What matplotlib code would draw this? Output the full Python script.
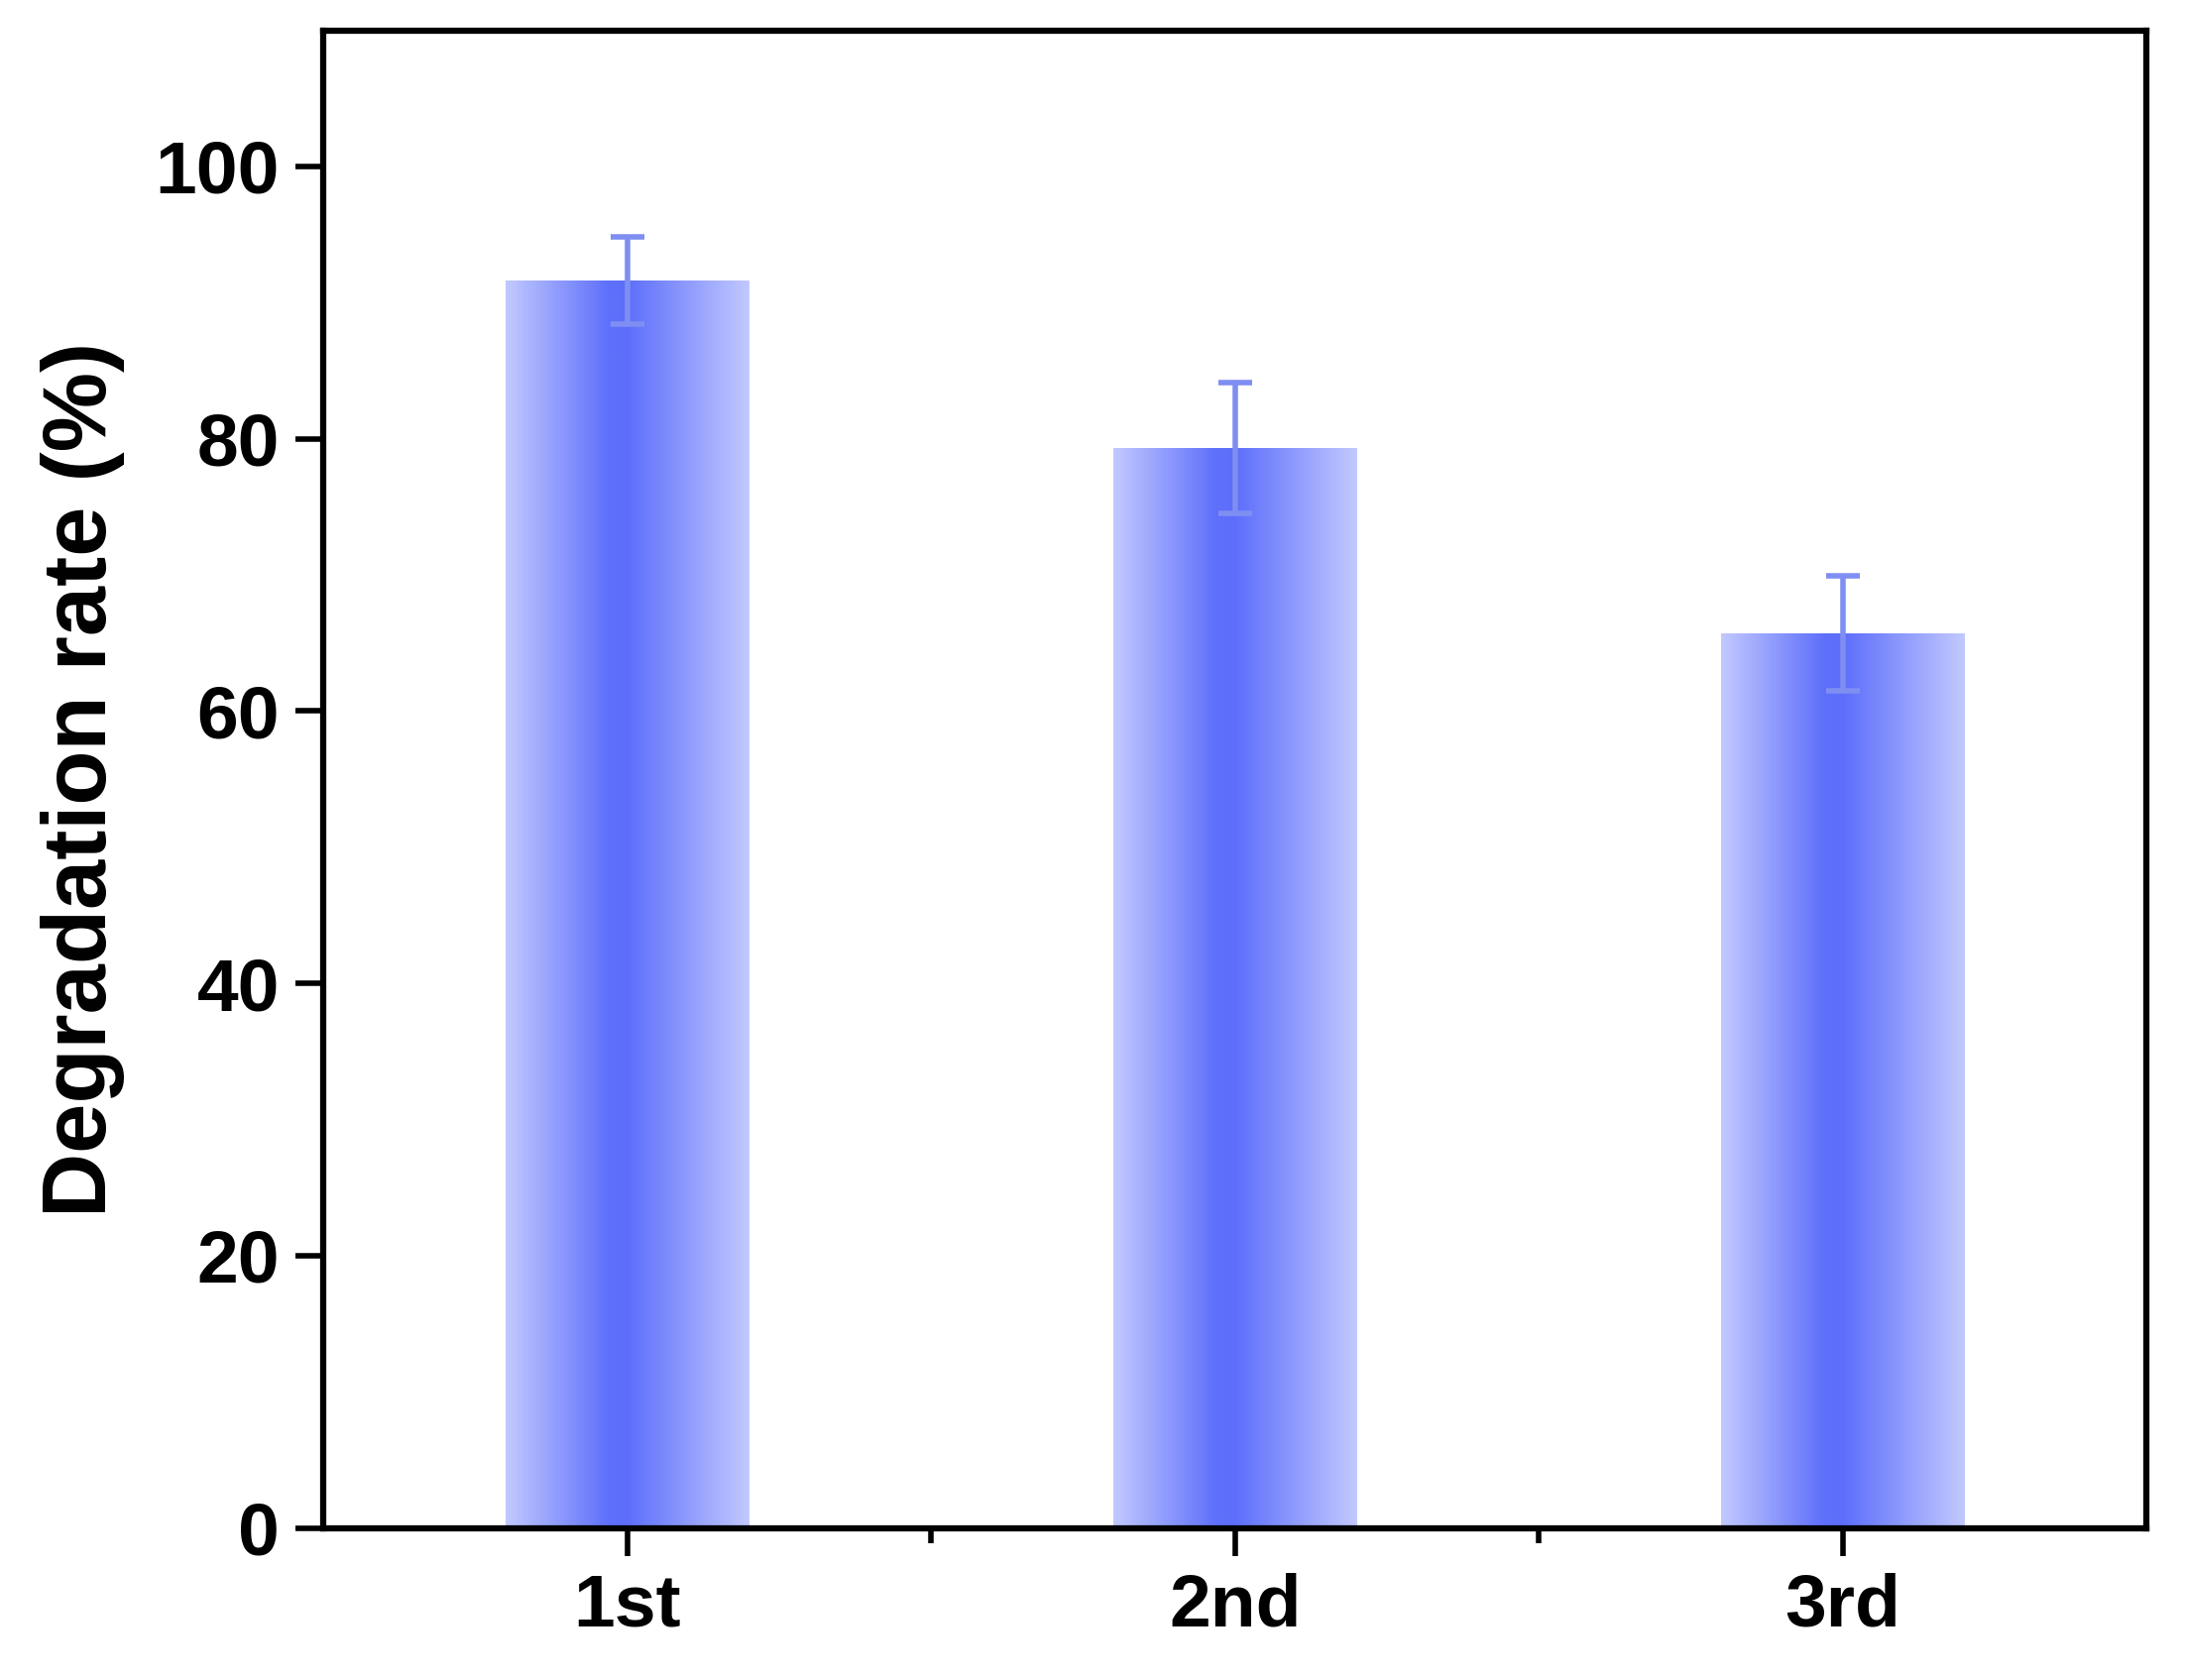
import numpy as np
import matplotlib
matplotlib.use("Agg")
import matplotlib.pyplot as plt
from matplotlib.colors import LinearSegmentedColormap

cycles = ["1st", "2nd", "3rd"]
rates = [91.6, 79.3, 65.7]
errors = [3.2, 4.8, 4.2]

plt.rcParams["font.family"] = ["Liberation Sans", "DejaVu Sans"]
plt.rcParams["font.weight"] = "bold"

fig = plt.figure(figsize=(22.05, 16.95), dpi=100)
ax = fig.add_axes([0.148, 0.0905, 0.834, 0.8915])

positions = np.arange(1, len(cycles) + 1)
bars = ax.bar(positions, rates, width=0.4, color="none", edgecolor="none", zorder=2)

# horizontal gradient: light edges, strong centre
cmap = LinearSegmentedColormap.from_list(
    "bargrad", [(0.0, "#c2c9ff"), (0.42, "#5f70fb"), (0.5, "#5d6efb"), (1.0, "#c2c9ff")])
grad = np.linspace(0, 1, 256).reshape(1, -1)
for bar in bars:
    x0, w, h = bar.get_x(), bar.get_width(), bar.get_height()
    im = ax.imshow(grad, cmap=cmap, aspect="auto", extent=[x0, x0 + w, 0, h],
                   zorder=2, interpolation="bicubic")
    im.set_clip_path(bar)

ax.errorbar(positions, rates, yerr=errors, fmt="none", ecolor="#7f8ef2",
            elinewidth=4, capsize=12, capthick=4, zorder=3)

ax.set_xlim(0.5, 3.5)
ax.set_ylim(0, 110)
ax.set_xticks(positions)
ax.set_xticklabels(cycles)
ax.set_xticks([1.5, 2.5], minor=True)
ax.set_yticks(np.arange(0, 101, 20))
ax.tick_params(axis="both", which="both", direction="out", width=4, labelsize=54, pad=12)
ax.tick_params(axis="both", which="major", length=20)
ax.tick_params(axis="x", which="minor", length=11)
ax.tick_params(axis="y", which="minor", left=False)
for lab in ax.get_xticklabels() + ax.get_yticklabels():
    lab.set_fontweight("bold")
for s in ax.spines.values():
    s.set_linewidth(4.5)

ax.set_ylabel("Degradation rate (%)", fontsize=65, fontweight="bold", labelpad=22)

fig.savefig("out.png", dpi=100)
